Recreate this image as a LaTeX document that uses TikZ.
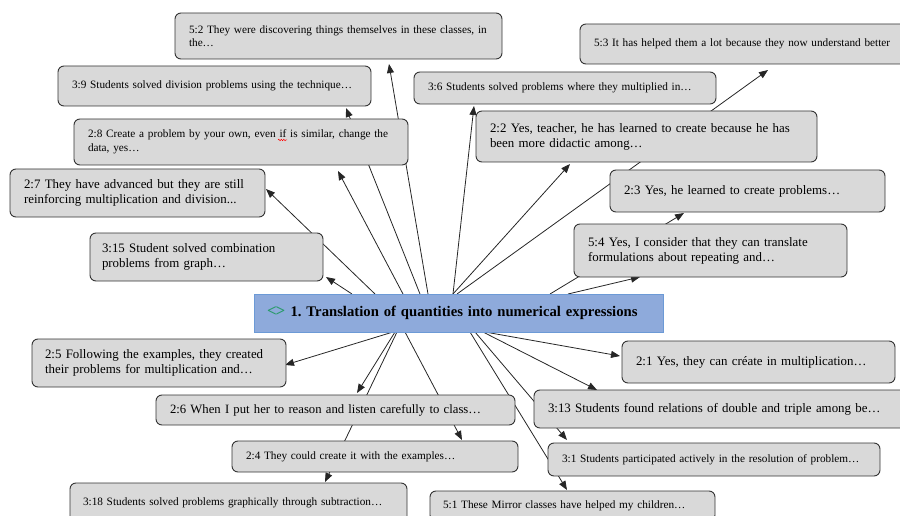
\documentclass[tikz,border=0pt]{standalone}
\usepackage{fontspec}
\setmainfont{Liberation Serif}
\usetikzlibrary{arrows.meta,backgrounds,decorations.pathmorphing}
\frenchspacing

\definecolor{boxfill}{HTML}{D9D9D9}
\definecolor{boxline}{HTML}{333333}
\definecolor{corefill}{HTML}{8EAADB}
\definecolor{coreline}{HTML}{6C9AD6}
\definecolor{codegreen}{HTML}{279A68}

\begin{document}
\begin{tikzpicture}[x=1pt,y=-1pt,
  card/.style={draw=boxline, fill=boxfill, rounded corners=6pt, line width=0.9pt,
    align=left, inner xsep=14pt, inner ysep=0pt, outer sep=0pt, anchor=north west},
  big/.style={font=\fontsize{12.9}{15}\selectfont},
  small/.style={font=\fontsize{11.25}{13.5}\selectfont},
  core/.style={draw=coreline, fill=corefill, line width=0.8pt, align=left,
    inner xsep=13pt, inner ysep=0pt, outer sep=0pt, anchor=north west,
    font=\fontsize{14.7}{17}\selectfont\bfseries},
  link/.style={draw=black!85, line width=0.8pt, -{Triangle[length=9pt,width=7pt]}},
  squiggle/.style={draw=red, line width=0.5pt, decorate,
    decoration={snake, segment length=2.5pt, amplitude=0.7pt}}]

\useasboundingbox (0,0) rectangle (900,516);
\clip (0,0) rectangle (900,516);

% central code
\node[core, minimum height=38pt, text width=383pt] (c) at (254,294)
  {\textcolor{codegreen}{\fontsize{17}{17}\selectfont<\kern-1.2pt>}\hspace{0.5pt} 1. Translation of quantities into numerical expressions};

% quotations above the code
\node[card, small, minimum height=46pt, text width=299pt] (b52) at (175,13)
  {5:2 They were discovering things themselves in these classes, in\\the…};
\node[card, small, minimum height=40pt, text width=285pt] (b39) at (58,66)
  {3:9 Students solved division problems using the technique…};
\node[card, small, minimum height=32pt, text width=274pt] (b36) at (414,72)
  {3:6 Students solved problems where they multiplied in…};
\node[card, small, minimum height=40pt, text width=312pt] (b53) at (580,24)
  {5:3 It has helped them a lot because they now understand better};
\node[card, small, minimum height=46pt, text width=306pt] (b28) at (74,119)
  {2:8 Create a problem by your own, even if is similar, change the\\data, yes…};
\node[card, big, minimum height=51pt, text width=313pt] (b22) at (476,111)
  {2:2 Yes, teacher, he has learned to create because he has\\been more didactic among…};
\node[card, big, minimum height=48pt, text width=227pt] (b27) at (10,169)
  {2:7 They have advanced but they are still\\reinforcing multiplication and division...};
\node[card, big, minimum height=42pt, text width=247pt] (b23) at (610,170)
  {2:3 Yes, he learned to create problems…};
\node[card, big, minimum height=48pt, text width=209pt, inner xsep=12pt] (b315) at (90,233)
  {3:15 Student solved combination\\problems from graph…};
\node[card, big, minimum height=53pt, text width=245pt] (b54) at (574,224)
  {5:4 Yes, I consider that they can translate\\formulations about repeating and…};

% quotations below the code
\node[card, big, minimum height=48pt, text width=228pt, inner xsep=13pt] (b25) at (32,339)
  {2:5 Following the examples, they created\\their problems for multiplication and…};
\node[card, big, minimum height=42pt, text width=245pt] (b21) at (622,341)
  {2:1 Yes, they can créate in multiplication…};
\node[card, big, font=\fontsize{12.7}{15}\selectfont, minimum height=30pt, text width=331pt] (b26) at (156,395)
  {2:6 When I put her to reason and listen carefully to class…};
\node[card, big, minimum height=38pt, text width=353pt] (b313) at (534,390)
  {3:13 Students found relations of double and triple among be…};
\node[card, small, minimum height=31pt, text width=258pt] (b24) at (232,441)
  {2:4 They could create it with the examples…};
\node[card, small, minimum height=33pt, text width=304pt] (b31) at (548,443)
  {3:1 Students participated actively in the resolution of problem…};
\node[card, small, minimum height=40pt, text width=311pt, inner xsep=13pt] (b318) at (70,483)
  {3:18 Students solved problems graphically through subtraction…};
\node[card, small, minimum height=30pt, text width=259pt, inner xsep=13pt] (b51) at (430,491)
  {5:1 These Mirror classes have helped my children…};

% spelling mark under "if"
\draw[squiggle] ([shift={(204,21)}]b28.north west) -- ([shift={(213,21)}]b28.north west);

% connectors, kept behind the boxes
\begin{scope}[on background layer]
  \draw[link] ([xshift=98pt]c.north west)  -- ([shift={(3,-4)}]b315.south east);
  \draw[link] ([xshift=121pt]c.north west) -- ([shift={(1,-4)}]b27.east);
  \draw[link] ([xshift=149pt]c.north west) -- ([shift={(-70,6)}]b28.south east);
  \draw[link] ([xshift=166pt]c.north west) -- ([shift={(-25,2)}]b39.south east);
  \draw[link] ([xshift=174pt]c.north west) -- ([shift={(-113,5)}]b52.south east);
  \draw[link] ([xshift=199pt]c.north west) -- ([shift={(60,2)}]b36.south west);
  \draw[link] ([xshift=199pt]c.north west) -- ([shift={(94,2)}]b22.south west);
  \draw[link] ([xshift=203pt]c.north west) -- ([shift={(188,6)}]b53.south west);
  \draw[link] ([xshift=296pt]c.north west) -- ([shift={(74,1)}]b23.south west);
  \draw[link] ([xshift=314pt]c.north west) -- ([shift={(66,0)}]b54.south west);

  \draw[link] ([xshift=139pt]c.south west) -- ([shift={(-1,2)}]b25.east);
  \draw[link] ([xshift=141pt]c.south west) -- ([shift={(201,-2)}]b26.north west);
  \draw[link] ([xshift=143pt]c.south west) -- ([shift={(255,-1)}]b318.north west);
  \draw[link] ([xshift=151pt]c.south west) -- ([shift={(230,-1)}]b24.north west);
  \draw[link] ([xshift=216pt]c.south west) -- ([shift={(137,-1)}]b51.north west);
  \draw[link] ([xshift=221pt]c.south west) -- ([shift={(19,-3)}]b31.north west);
  \draw[link] ([xshift=229pt]c.south west) -- ([shift={(63,0)}]b313.north west);
  \draw[link] ([xshift=231pt]c.south west) -- ([shift={(-2,-6)}]b21.west);
\end{scope}
\end{tikzpicture}
\end{document}
